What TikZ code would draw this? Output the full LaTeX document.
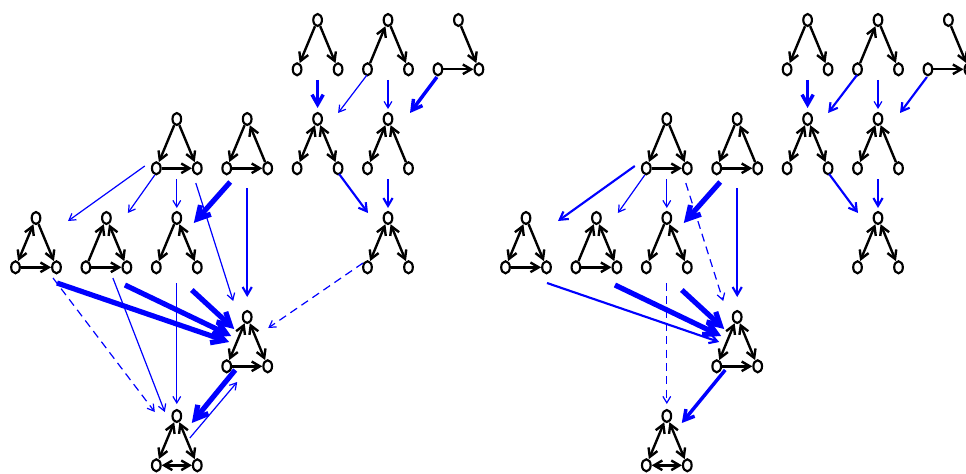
\documentclass[tikz,border=0pt]{standalone}
\usepackage{tikz}
\usetikzlibrary{arrows.meta,shapes.geometric}

\begin{document}
\begin{tikzpicture}[x=0.75pt,y=-0.75pt,>={Straight Barb[length=3.5pt 1.5,width=4.5pt 1.5]},
  main node/.style={ellipse,draw,line width=1.6pt,minimum width=6.5pt,minimum height=9pt,inner sep=0pt},
  link/.style={->,line width=1.8pt},
  flow/.style={->,blue},
  thin flow/.style={flow,line width=0.9pt},
  mid flow/.style={flow,line width=1.6pt},
  thick flow/.style={flow,line width=2.6pt},
  heavy flow/.style={flow,line width=3.9pt},
  dash flow/.style={thin flow,dash pattern=on 6pt off 4pt}]
\useasboundingbox (0,0) rectangle (966,474);
% the small graphs, left panel (a) and right panel (b)
\begin{scope}
\foreach \p/\dx in {a/0,b/490}
  \foreach \g/\x/\y in {1/317.6/20,2/388/20,3/458.4/20,
                        4/176.8/119,5/247.2/119,6/317.6/119,7/388/119,
                        8/36/218,9/106.4/218,10/176.8/218,11/388/218,
                        12/247.2/317,13/176.8/416}{
    \node[main node] (\p\g t) at (\x+\dx,\y) {};
    \node[main node] (\p\g l) at (\x+\dx-20.5,\y+49.3) {};
    \node[main node] (\p\g r) at (\x+\dx+20.5,\y+49.3) {};
  }
\end{scope}
\begin{scope}
\foreach \p in {a,b}{
  \path[link] (\p1t) edge (\p1l) edge (\p1r);
  \path[link] (\p2l) edge (\p2t) (\p2t) edge (\p2r);
  \path[link] (\p3t) edge (\p3r) (\p3l) edge (\p3r);
  \path[link] (\p4t) edge (\p4l) edge (\p4r) (\p4l) edge (\p4r);
  \path[link] (\p5t) edge (\p5l) (\p5r) edge (\p5t) (\p5l) edge (\p5r);
  \path[link] (\p6t) edge[<->] (\p6l) edge[<->] (\p6r);
  \path[link] (\p7t) edge[<->] (\p7l) (\p7r) edge (\p7t);
  \path[link] (\p8t) edge[<->] (\p8l) edge (\p8r) (\p8l) edge (\p8r);
  \path[link] (\p9l) edge (\p9t) (\p9t) edge[<->] (\p9r) (\p9l) edge (\p9r);
  \path[link] (\p10t) edge (\p10l) edge[<->] (\p10r);
  \path[link] (\p11t) edge[<->] (\p11l) edge[<->] (\p11r);
  \path[link] (\p12t) edge[<->] (\p12l) edge[<->] (\p12r) (\p12l) edge (\p12r);
  \path[link] (\p13t) edge[<->] (\p13l) edge[<->] (\p13r) (\p13l) edge[<->] (\p13r);
}
\end{scope}
% left panel flows
\begin{scope}
\draw[thick flow] ([shift={(0,60)}]a1t.center) -- ([shift={(0,-11)}]a6t.center);
\draw[thin flow] ([shift={(-21,55)}]a2t.center) -- ([shift={(20.5,-6)}]a6t.center);
\draw[thin flow] ([shift={(0,60)}]a2t.center) -- ([shift={(0,-10)}]a7t.center);
\draw[thick flow] ([shift={(-21.5,57)}]a3t.center) -- ([shift={(22,-6)}]a7t.center);
\draw[mid flow] ([shift={(21.5,55)}]a6t.center) -- ([shift={(-20,-5)}]a11t.center);
\draw[mid flow] ([shift={(0,60)}]a7t.center) -- ([shift={(0,-10)}]a11t.center);
\draw[dash flow] ([shift={(-25,45)}]a11t.center) -- ([shift={(21,11)}]a12t.center);
\draw[thin flow] ([shift={(-32,47)}]a4t.center) -- ([shift={(32,3)}]a8t.center);
\draw[thin flow] ([shift={(-22,56)}]a4t.center) -- ([shift={(21.5,-5)}]a9t.center);
\draw[thin flow] ([shift={(0,60)}]a4t.center) -- ([shift={(0,-10)}]a10t.center);
\draw[thin flow] ([shift={(19,64)}]a4t.center) -- ([shift={(-14,-16)}]a12t.center);
\draw[heavy flow] ([shift={(-17,63)}]a5t.center) -- ([shift={(17,5)}]a10t.center);
\draw[mid flow] ([shift={(0,69)}]a5t.center) -- ([shift={(0,-20)}]a12t.center);
\draw[heavy flow] ([shift={(21,65)}]a8t.center) -- ([shift={(-18,25)}]a12t.center);
\draw[heavy flow] ([shift={(18.5,67)}]a9t.center) -- ([shift={(-16,19)}]a12t.center);
\draw[heavy flow] ([shift={(15,72)}]a10t.center) -- ([shift={(-13,12)}]a12t.center);
\draw[thin flow] ([shift={(0,65)}]a10t.center) -- ([shift={(0,-12)}]a13t.center);
\draw[thin flow] ([shift={(6.5,60)}]a9t.center) -- ([shift={(-12,-4)}]a13t.center);
\draw[dash flow] ([shift={(17,60)}]a8t.center) -- ([shift={(-22,-4)}]a13t.center);
\draw[heavy flow] ([shift={(-12,53)}]a12t.center) -- ([shift={(15,7)}]a13t.center);
\draw[thin flow] ([shift={(13,22)}]a13t.center) -- ([shift={(-10,65)}]a12t.center);
\end{scope}
% right panel flows
\begin{scope}
\draw[thick flow] ([shift={(0,60)}]b1t.center) -- ([shift={(0,-11)}]b6t.center);
\draw[mid flow] ([shift={(-21,55)}]b2t.center) -- ([shift={(20.5,-6)}]b6t.center);
\draw[thin flow] ([shift={(0,60)}]b2t.center) -- ([shift={(0,-10)}]b7t.center);
\draw[mid flow] ([shift={(-21.5,57)}]b3t.center) -- ([shift={(22,-6)}]b7t.center);
\draw[mid flow] ([shift={(21.5,55)}]b6t.center) -- ([shift={(-20,-5)}]b11t.center);
\draw[mid flow] ([shift={(0,60)}]b7t.center) -- ([shift={(0,-10)}]b11t.center);
\draw[mid flow] ([shift={(-32,47)}]b4t.center) -- ([shift={(32,3)}]b8t.center);
\draw[thin flow] ([shift={(-22,56)}]b4t.center) -- ([shift={(21.5,-5)}]b9t.center);
\draw[thin flow] ([shift={(0,60)}]b4t.center) -- ([shift={(0,-10)}]b10t.center);
\draw[dash flow] ([shift={(19,64)}]b4t.center) -- ([shift={(-14,-16)}]b12t.center);
\draw[heavy flow] ([shift={(-17,63)}]b5t.center) -- ([shift={(17,5)}]b10t.center);
\draw[mid flow] ([shift={(0,69)}]b5t.center) -- ([shift={(0,-20)}]b12t.center);
\draw[mid flow] ([shift={(21,65)}]b8t.center) -- ([shift={(-18,25)}]b12t.center);
\draw[heavy flow] ([shift={(18.5,67)}]b9t.center) -- ([shift={(-16,19)}]b12t.center);
\draw[heavy flow] ([shift={(15,72)}]b10t.center) -- ([shift={(-13,12)}]b12t.center);
\draw[dash flow] ([shift={(0,65)}]b10t.center) -- ([shift={(0,-12)}]b13t.center);
\draw[thick flow] ([shift={(-12,53)}]b12t.center) -- ([shift={(15,7)}]b13t.center);
\end{scope}
\end{tikzpicture}
\end{document}
